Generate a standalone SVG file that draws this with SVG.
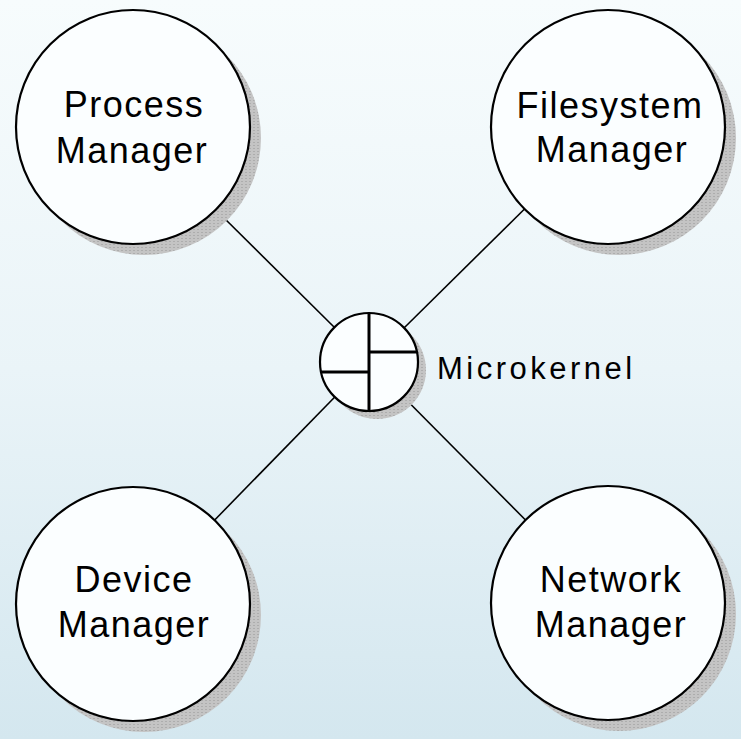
<svg xmlns="http://www.w3.org/2000/svg" width="741" height="739" viewBox="0 0 741 739">
  <defs>
    <linearGradient id="bg" x1="0" y1="0" x2="0" y2="1">
      <stop offset="0" stop-color="#f7fcfd"/>
      <stop offset="0.5" stop-color="#eaf4f8"/>
      <stop offset="1" stop-color="#d4e7ef"/>
    </linearGradient>
    <pattern id="dots" width="4" height="3" patternUnits="userSpaceOnUse">
      <rect width="4" height="3" fill="#c4c4c4" shape-rendering="crispEdges"/>
      <rect x="1" y="1" width="2" height="1" fill="#adadad" shape-rendering="crispEdges"/>
    </pattern>
  </defs>
  <style>
    .node { fill: #fbfeff; stroke: #000; stroke-width: 2.2; }
    .shadow { fill: url(#dots); stroke: none; }
    .conn line { stroke: #000; stroke-width: 1.6; }
    .lbl { font-family: "Liberation Sans", Arial, sans-serif; font-size: 36px; letter-spacing: 1.5px; fill: #000; text-anchor: middle; }
    .klbl { font-family: "Liberation Sans", Arial, sans-serif; font-size: 31px; letter-spacing: 3.5px; fill: #000; }
    .kline { stroke: #000; stroke-width: 3; }
  </style>
  <rect width="741" height="739" fill="url(#bg)"/>

  <g id="connectors" class="conn">
    <line x1="216" y1="210" x2="334" y2="327"/>
    <line x1="524.5" y1="209" x2="404" y2="328"/>
    <line x1="214.7" y1="520" x2="334.8" y2="397"/>
    <line x1="525.5" y1="520" x2="403.5" y2="397"/>
  </g>

  <g id="process-manager">
    <circle class="shadow" cx="144" cy="138" r="117"/>
    <circle class="node" cx="133" cy="127" r="117"/>
    <text class="lbl" x="134" y="117">Process</text>
    <text class="lbl" x="132" y="163">Manager</text>
  </g>

  <g id="filesystem-manager">
    <circle class="shadow" cx="619" cy="138" r="117"/>
    <circle class="node" cx="608" cy="127" r="117"/>
    <text class="lbl" x="610" y="118">Filesystem</text>
    <text class="lbl" x="612" y="162">Manager</text>
  </g>

  <g id="device-manager">
    <circle class="shadow" cx="144" cy="615" r="117"/>
    <circle class="node" cx="133" cy="604" r="117"/>
    <text class="lbl" x="134" y="592">Device</text>
    <text class="lbl" x="134" y="637">Manager</text>
  </g>

  <g id="network-manager">
    <circle class="shadow" cx="619" cy="614" r="117"/>
    <circle class="node" cx="608" cy="603" r="117"/>
    <text class="lbl" x="611" y="592">Network</text>
    <text class="lbl" x="611" y="637">Manager</text>
  </g>

  <g id="microkernel">
    <circle class="shadow" cx="377" cy="370" r="49"/>
    <circle class="node" cx="369" cy="362" r="49"/>
    <line class="kline" x1="369" y1="313" x2="369" y2="411"/>
    <line class="kline" x1="369" y1="352" x2="417" y2="352"/>
    <line class="kline" x1="321" y1="372" x2="369" y2="372"/>
    <text class="klbl" x="437" y="379">Microkernel</text>
  </g>
</svg>
